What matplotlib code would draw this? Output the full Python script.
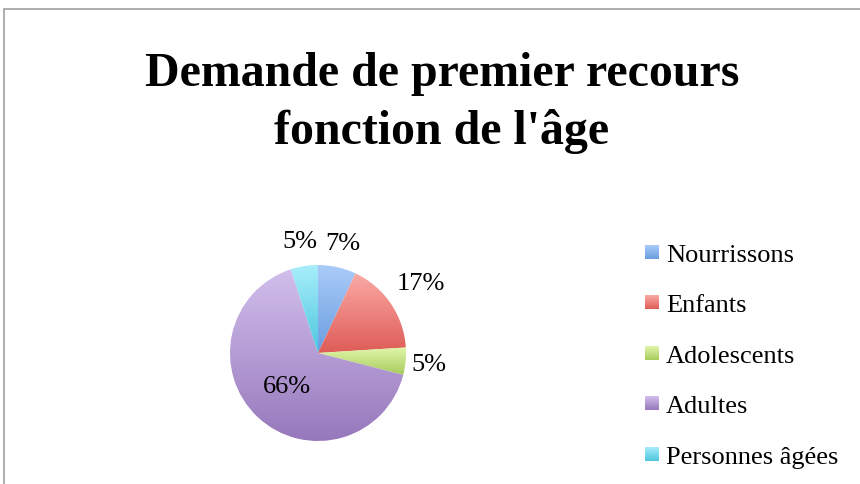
import numpy as np
import matplotlib
matplotlib.use("Agg")
import matplotlib.pyplot as plt
from matplotlib.patches import Rectangle

# data
categories = ["Nourrissons", "Enfants", "Adolescents", "Adultes", "Personnes âgées"]
values = [7, 17, 5, 66, 5]
# gradient colours, top -> bottom, per slice
tops = ["#aacbf8", "#fbaaa6", "#e2f6aa", "#d2bfec", "#a8eefa"]
bottoms = ["#6a9de0", "#de5c57", "#a6cb5c", "#9678bc", "#4cc6df"]
label_dist = [1.28, 1.41, 1.27, 0.52, 1.29]

W, H = 860, 485
plt.rcParams['font.family'] = ['Liberation Serif', 'DejaVu Serif']
fig = plt.figure(figsize=(W / 100, H / 100), dpi=100)

# chart frame (only left/top edges visible in the crop)
fig.add_artist(Rectangle((4 / W, -0.1), 1.2, (H - 10) / H + 0.1,
                         transform=fig.transFigure, fill=False,
                         edgecolor="#a0a0a0", lw=1.2))

fig.text(442 / W, 1 - 52 / H, "Demande de premier recours\nfonction de l'âge",
         ha='center', va='top', fontsize=34.5, fontweight='bold',
         linespacing=1.36)


def gradient(i):
    g = np.linspace(0, 1, 256).reshape(-1, 1, 1)
    c0 = np.array(matplotlib.colors.to_rgb(tops[i]))
    c1 = np.array(matplotlib.colors.to_rgb(bottoms[i]))
    return c0 * (1 - g) + c1 * g


# pie
cx, cy, r = 318, 354, 88
ax = fig.add_axes([(cx - r) / W, (H - cy - r) / H, 2 * r / W, 2 * r / H])
wedges, _ = ax.pie(values, startangle=90, counterclock=False,
                   wedgeprops=dict(linewidth=0))
ax.axis('off')

for i, w in enumerate(wedges):
    w.set_facecolor('none')
    ext = w.get_path().get_extents()
    im = ax.imshow(gradient(i), extent=[ext.x0, ext.x1, ext.y0, ext.y1],
                   origin='upper', aspect='auto', interpolation='bilinear', zorder=1)
    im.set_clip_path(w)
    ang = np.deg2rad((w.theta1 + w.theta2) / 2)
    d = label_dist[i]
    ax.text(d * np.cos(ang), d * np.sin(ang), f"{values[i]}%",
            ha='center', va='center', fontsize=19, zorder=3)
ax.set_xlim(-1, 1)
ax.set_ylim(-1, 1)

# legend
lax = fig.add_axes([0, 0, 1, 1], facecolor='none')
lax.axis('off')
y0, step = 253, 50.5
for i, name in enumerate(categories):
    yc = y0 + i * step
    lax.imshow(gradient(i), extent=[645, 659, yc + 7, yc - 7], origin='upper',
               aspect='auto', interpolation='bilinear')
    lax.text(666, yc + 3, name, ha='left', va='center', fontsize=19)
lax.set_xlim(0, W)
lax.set_ylim(H, 0)

fig.savefig("out.png", dpi=100)
